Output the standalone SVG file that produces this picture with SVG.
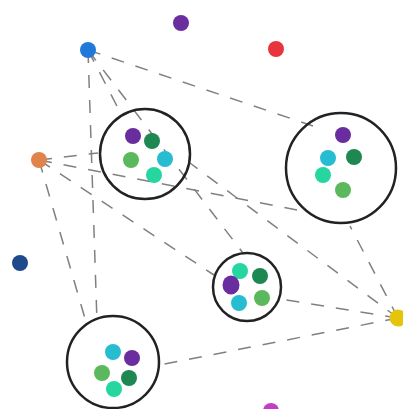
<svg xmlns="http://www.w3.org/2000/svg" width="403" height="409" viewBox="0 0 403 409">
<style>
.e{stroke:#808080;stroke-width:1.5;stroke-dasharray:13 12;fill:none}
.c{fill:none;stroke:#222;stroke-width:2.5}
.pu{fill:#6a2da0}.dg{fill:#1e8752}.gr{fill:#5cb85c}.cy{fill:#26bdd0}.te{fill:#25d6a0}
</style>
<rect width="403" height="409" fill="#fff"/>
<g id="connectors">
<line class="e" x1="88" y1="50" x2="313" y2="126"/>
<line class="e" x1="88" y1="50" x2="120" y2="112"/>
<line class="e" x1="88" y1="50" x2="243" y2="253"/>
<line class="e" x1="88" y1="50" x2="97" y2="322"/>
<line class="e" x1="39" y1="160" x2="98" y2="153"/>
<line class="e" x1="39" y1="160" x2="297" y2="210"/>
<line class="e" x1="39" y1="160" x2="214" y2="275"/>
<line class="e" x1="39" y1="160" x2="86" y2="322"/>
<line class="e" x1="398" y1="318" x2="350" y2="226"/>
<line class="e" x1="398" y1="318" x2="190" y2="163"/>
<line class="e" x1="398" y1="318" x2="281" y2="299"/>
<line class="e" x1="398" y1="318" x2="160" y2="365"/>
</g>
<g id="n-blue"><circle cx="88" cy="50" r="8" fill="#2079d8"/></g>
<g id="n-purple"><circle cx="181" cy="23" r="8" fill="#6b2e9e"/></g>
<g id="n-red"><circle cx="276" cy="49" r="8" fill="#e8343c"/></g>
<g id="n-orange"><circle cx="39" cy="160" r="8" fill="#e0844c"/></g>
<g id="n-darkblue"><circle cx="20" cy="263" r="8" fill="#1e4a8c"/></g>
<g id="n-yellow"><circle cx="398" cy="318" r="8.5" fill="#e5c40c"/></g>
<g id="n-magenta"><circle cx="271" cy="411" r="8" fill="#c23ec6"/></g>
<g id="cluster1">
<circle class="c" cx="145" cy="154" r="45"/>
<circle class="pu" cx="133" cy="136" r="8"/>
<circle class="dg" cx="152" cy="141" r="8"/>
<circle class="gr" cx="131" cy="160" r="8"/>
<circle class="cy" cx="165" cy="159" r="8"/>
<circle class="te" cx="154" cy="175" r="8"/>
</g>
<g id="cluster2">
<circle class="c" cx="341" cy="168" r="55"/>
<circle class="pu" cx="343" cy="135" r="8"/>
<circle class="cy" cx="328" cy="158" r="8"/>
<circle class="dg" cx="354" cy="157" r="8"/>
<circle class="te" cx="323" cy="175" r="8"/>
<circle class="gr" cx="343" cy="190" r="8"/>
</g>
<g id="cluster3">
<circle class="c" cx="247" cy="287" r="34"/>
<circle class="te" cx="240" cy="271" r="8"/>
<circle class="dg" cx="260" cy="276" r="8"/>
<ellipse class="pu" cx="231" cy="285" rx="8.5" ry="9.5"/>
<circle class="cy" cx="239" cy="303" r="8"/>
<circle class="gr" cx="262" cy="298" r="8"/>
</g>
<g id="cluster4">
<circle class="c" cx="113" cy="362" r="46"/>
<circle class="cy" cx="113" cy="352" r="8"/>
<circle class="pu" cx="132" cy="358" r="8"/>
<circle class="gr" cx="102" cy="373" r="8"/>
<circle class="dg" cx="129" cy="378" r="8"/>
<circle class="te" cx="114" cy="389" r="8"/>
</g>
</svg>
